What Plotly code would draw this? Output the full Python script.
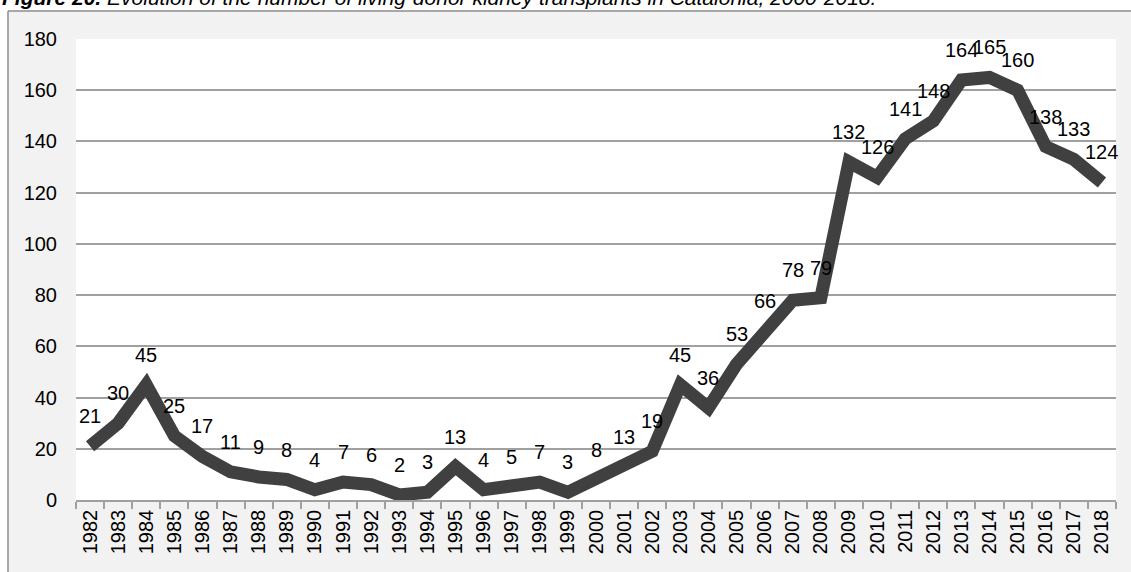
import plotly.graph_objects as go

years = [str(y) for y in range(1982, 2019)]
transplants = [21, 30, 45, 25, 17, 11, 9, 8, 4, 7, 6, 2, 3, 13, 4, 5, 7, 3, 8, 13,
               19, 45, 36, 53, 66, 78, 79, 132, 126, 141, 148, 164, 165, 160, 138, 133, 124]
y_ticks = [0, 20, 40, 60, 80, 100, 120, 140, 160, 180]
title_bold = "Figure 20."
title_rest = " Evolution of the number of living-donor kidney transplants in Catalonia, 2000-2018."

W, H = 1131, 572
L, R, T, B = 76, 15, 39, 72
PW, PH = W - L - R, H - T - B

def px_x(p):
    return (p - L) / PW

def px_y(p):
    return (H - B - p) / PH

FONT = "Arial, Liberation Sans, sans-serif"
FS = 20

fig = go.Figure()
fig.add_trace(go.Scatter(
    x=years, y=transplants, mode="lines",
    line=dict(color="#404040", width=13),
    hoverinfo="skip", showlegend=False,
))

annotations = []
for i, v in enumerate(transplants):
    annotations.append(dict(
        x=i, y=v, xref="x", yref="y", text=str(v), showarrow=False,
        yshift=30, xanchor="center", yanchor="middle",
        font=dict(family=FONT, size=FS, color="#000000"),
    ))
annotations.append(dict(
    x=px_x(0), y=px_y(11), xref="paper", yref="paper",
    xanchor="left", yanchor="bottom", showarrow=False,
    text="<b><i>" + title_bold + "</i></b><i>" + title_rest + "</i>",
    font=dict(family=FONT, size=21, color="#000000"),
))

shapes = [
    dict(type="rect", xref="paper", yref="paper", x0=px_x(-5), x1=px_x(W + 5),
         y0=px_y(11), y1=px_y(-5), fillcolor="white", line=dict(width=0), layer="below"),
    dict(type="rect", xref="paper", yref="paper", x0=px_x(-5), x1=px_x(8),
         y0=px_y(H + 5), y1=px_y(-5), fillcolor="white", line=dict(width=0), layer="below"),
    dict(type="line", xref="paper", yref="paper", x0=px_x(8), x1=px_x(W + 5),
         y0=px_y(11), y1=px_y(11), line=dict(color="#8c8c8c", width=1.5)),
    dict(type="line", xref="paper", yref="paper", x0=px_x(8), x1=px_x(8),
         y0=px_y(11), y1=px_y(H + 5), line=dict(color="#8c8c8c", width=1.5)),
]

fig.update_layout(
    width=W, height=H,
    margin=dict(l=L, r=R, t=T, b=B, pad=0),
    paper_bgcolor="#f2f2f2", plot_bgcolor="white",
    annotations=annotations, shapes=shapes,
    font=dict(family=FONT, size=FS, color="#000000"),
)
fig.update_xaxes(
    type="category", range=[-0.5, len(years) - 0.5],
    tickangle=-90, tickson="boundaries", ticks="outside", ticklen=7,
    tickcolor="#a0a0a0", tickwidth=1.5,
    showline=True, linecolor="#a0a0a0", linewidth=1.5,
    showgrid=False, tickfont=dict(family=FONT, size=FS, color="#000000"),
    fixedrange=True,
)
fig.update_yaxes(
    range=[0, 180], tickvals=y_ticks, ticks="", ticklabelstandoff=18,
    showgrid=True, gridcolor="#a0a0a0", gridwidth=1.5,
    zeroline=False, showline=False,
    tickfont=dict(family=FONT, size=FS, color="#000000"),
    fixedrange=True,
)

fig.write_html("out.html", config={"displayModeBar": False},
               post_script="document.body.style.margin='0';document.body.style.overflow='hidden';")
